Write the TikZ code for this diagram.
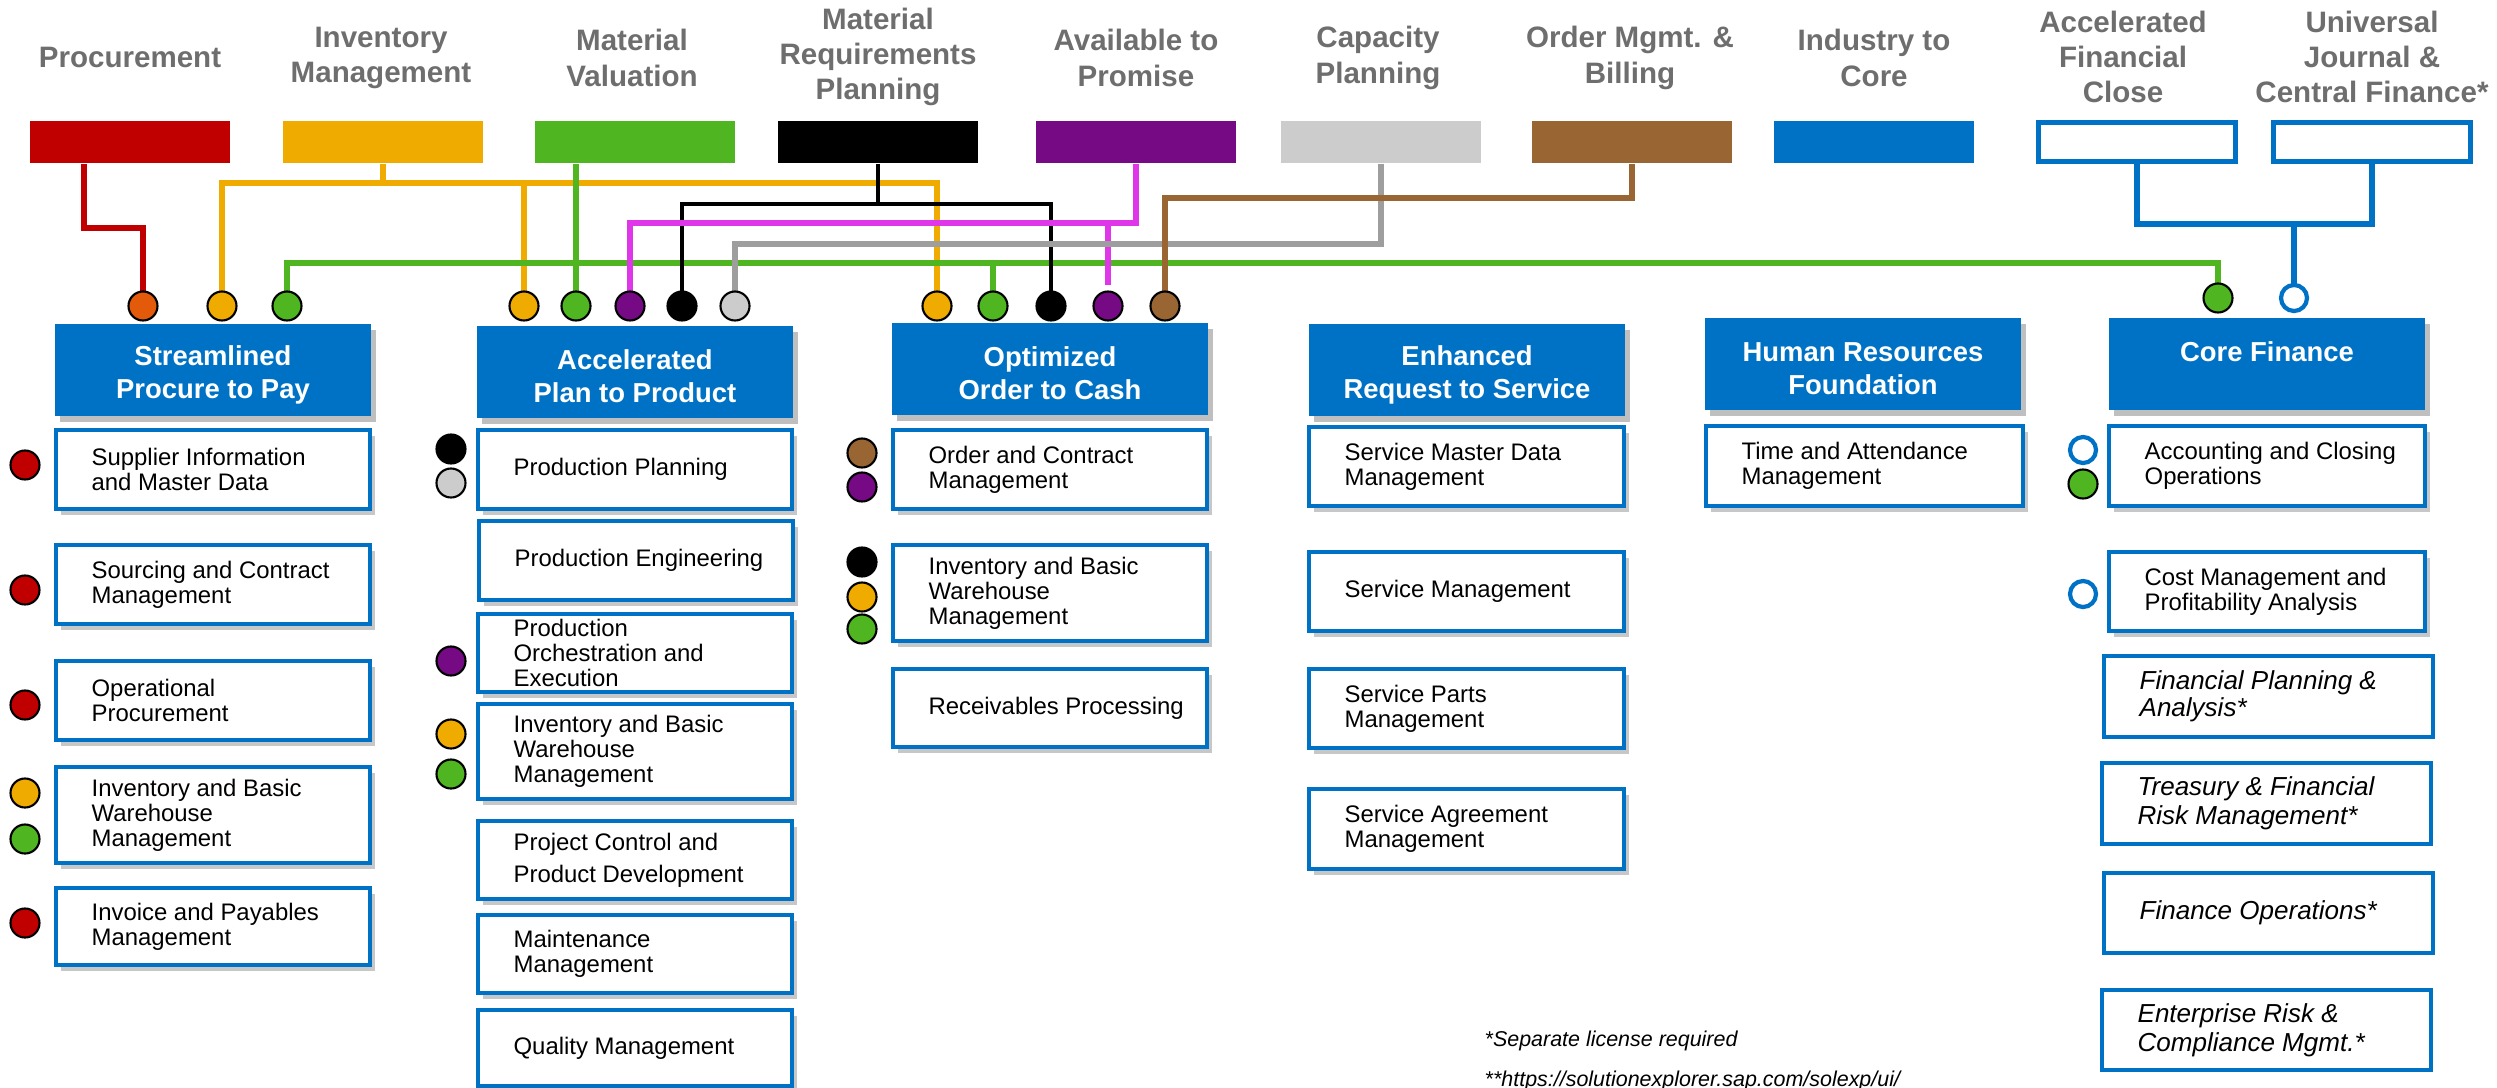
\documentclass[tikz,border=0pt]{standalone}
\usepackage{fontspec}
\setmainfont{Liberation Sans}
\usetikzlibrary{shadows}
\definecolor{cred}{HTML}{C00000}
\definecolor{corg}{HTML}{E35A0A}
\definecolor{cyel}{HTML}{F0AB00}
\definecolor{cgrn}{HTML}{4FB621}
\definecolor{cpur}{HTML}{760A85}
\definecolor{cmag}{HTML}{DE36E8}
\definecolor{cgrl}{HTML}{CCCCCC}
\definecolor{cgrd}{HTML}{9E9E9E}
\definecolor{cbrn}{HTML}{996633}
\definecolor{cblue}{HTML}{0072C6}
\definecolor{hgray}{HTML}{6E6E6E}
% [box style]{x1}{y1}{x2}{y2}{name}{text}
\newcommand\mkbox[7][sub]{%
  \node[#1, minimum width={(#4-#2-4)*0.01cm}, minimum height={(#5-#3-4)*0.01cm}] (#6) at ({(#2+#4)/2},{(#3+#5)/2}) {};
  \node[#1txt, anchor=west] (#6t) at ([xshift=0.37cm]#6.west) {#7};}
% {x}{y}{name}{text}
\newcommand\mkhead[4]{%
  \node[chead] (#3) at (#1,#2) {};
  \node[cheadtxt] (#3t) at ([yshift=-0.045cm]#3.center) {#4};}
\begin{document}
\begin{tikzpicture}[x=0.01cm,y=-0.01cm,
  htxt/.style={font=\fontsize{8.4}{10}\selectfont\bfseries, text=hgray, align=center, inner sep=0},
  bar/.style={minimum width=2cm, minimum height=0.42cm, inner sep=0, fill=#1},
  obar/.style={minimum width=1.97cm, minimum height=0.39cm, inner sep=0, draw=cblue, line width=1.3pt, fill=white},
  chead/.style={fill=cblue, inner sep=0, minimum width=3.15cm, minimum height=0.92cm,
     drop shadow={shadow xshift=0.05cm, shadow yshift=-0.06cm, opacity=0.25, fill=black}},
  cheadtxt/.style={text=white, font=\fontsize{7.8}{9.4}\selectfont\bfseries, align=center, inner sep=0},
  sub/.style={draw=cblue, line width=1.2pt, fill=white, inner sep=0,
     drop shadow={shadow xshift=0.05cm, shadow yshift=-0.06cm, opacity=0.22, fill=black}},
  subi/.style={draw=cblue, line width=1.2pt, fill=white, inner sep=0},
  subtxt/.style={font=\fontsize{6.8}{7.1}\selectfont, align=left, inner sep=0},
  subitxt/.style={font=\fontsize{7.4}{7.7}\selectfont\itshape, align=left, inner sep=0},
  dot/.style={circle, fill=#1, draw=black, line width=0.6pt, minimum size=0.29cm, inner sep=0},
  odot/.style={circle, fill=white, draw=cblue, line width=1.2pt, minimum size=0.26cm, inner sep=0},
  wire/.style={line width=1.5pt, draw=#1},
  foot/.style={font=\fontsize{6.1}{7}\selectfont\itshape, inner sep=0, anchor=west}]
\useasboundingbox (0,0) rectangle (2497,1088);
\clip (0,0) rectangle (2497,1088);

% top headings
\node[htxt] (tProc) at (130,57) {Procurement};
\node[htxt] (tInv) at (381,58) {Inventory\\Management};
\node[htxt] (tVal) at (632,58) {Material\\Valuation};
\node[htxt] (tMRP) at (878,57) {Material\\Requirements\\Planning};
\node[htxt] (tATP) at (1136,58) {Available to\\Promise};
\node[htxt] (tCap) at (1378,58) {Capacity\\Planning};
\node[htxt] (tOrd) at (1630,58) {Order Mgmt. \&\\Billing};
\node[htxt] (tInd) at (1874,58) {Industry to\\Core};
\node[htxt] (tAFC) at (2123,57) {Accelerated\\Financial\\Close};
\node[htxt] (tUJ) at (2372,57) {Universal\\Journal \&\\Central Finance*};

% top bars
\node[bar=cred] (hProc) at (130,142) {};
\node[bar=cyel] (hInv) at (383,142) {};
\node[bar=cgrn] (hVal) at (635,142) {};
\node[bar=black] (hMRP) at (878,142) {};
\node[bar=cpur] (hATP) at (1136,142) {};
\node[bar=cgrl] (hCap) at (1381,142) {};
\node[bar=cbrn] (hOrd) at (1632,142) {};
\node[bar=cblue] (hInd) at (1874,142) {};
\node[obar] (hAFC) at (2137,142) {};
\node[obar] (hUJ) at (2372,142) {};

% top dot positions
\coordinate (g1r) at (143,306);
\coordinate (g1y) at (222,306);
\coordinate (g1g) at (287,306);
\coordinate (g2y) at (524,306);
\coordinate (g2g) at (576,306);
\coordinate (g2p) at (630,306);
\coordinate (g2k) at (682,306);
\coordinate (g2s) at (735,306);
\coordinate (g3y) at (937,306);
\coordinate (g3g) at (993,306);
\coordinate (g3k) at (1051,306);
\coordinate (g3p) at (1108,306);
\coordinate (g3b) at (1165,306);
\coordinate (g6g) at (2218,298);
\coordinate (g6o) at (2294,298);

% bus levels
\coordinate (xR) at (84,0);
\coordinate (yR) at (0,228);
\coordinate (yY) at (0,183);
\coordinate (yG) at (0,263);
\coordinate (yK) at (0,204);
\coordinate (yM) at (0,223);
\coordinate (yS) at (0,244);
\coordinate (yB) at (0,198);
\coordinate (yF) at (0,224);

% connectors
\draw[wire=cred] (hProc.south -| xR) |- (g1r |- yR) -- (g1r);
\draw[wire=cyel] (hInv.south) -- (hInv.south |- yY);
\draw[wire=cyel] (g1y) |- (g3y |- yY) -- (g3y);
\draw[wire=cyel] (g2y) -- (g2y |- yY);
\draw[wire=cgrn] (hVal.south -| g2g) -- (g2g);
\draw[wire=cgrn] (g1g) |- (g6g |- yG) -- (g6g);
\draw[wire=cgrn] (g3g) -- (g3g |- yG);
\draw[line width=1.1pt, draw=black] (hMRP.south) -- (hMRP.south |- yK);
\draw[line width=1.1pt, draw=black] (g2k) |- (g3k |- yK) -- (g3k);
\draw[wire=cmag] (hATP.south) |- (g2p |- yM) -- (g2p);
\draw[wire=cmag] (g3p |- yM) -- ([yshift=0.21cm]g3p);
\draw[wire=cgrd] (hCap.south) |- (g2s |- yS) -- (g2s);
\draw[wire=cbrn] (hOrd.south) |- (g3b |- yB) -- (g3b);
\draw[wire=cblue] (hAFC.south) |- (hUJ.south |- yF) -- (hUJ.south);
\draw[wire=cblue] (g6o) -- (g6o |- yF);

% top dots
\node[dot=corg] (n1r) at (g1r) {};
\node[dot=cyel] (n1y) at (g1y) {};
\node[dot=cgrn] (n1g) at (g1g) {};
\node[dot=cyel] (n2y) at (g2y) {};
\node[dot=cgrn] (n2g) at (g2g) {};
\node[dot=cpur] (n2p) at (g2p) {};
\node[dot=black] (n2k) at (g2k) {};
\node[dot=cgrl] (n2s) at (g2s) {};
\node[dot=cyel] (n3y) at (g3y) {};
\node[dot=cgrn] (n3g) at (g3g) {};
\node[dot=black] (n3k) at (g3k) {};
\node[dot=cpur] (n3p) at (g3p) {};
\node[dot=cbrn] (n3b) at (g3b) {};
\node[dot=cgrn] (n6g) at (g6g) {};
\node[odot] (n6o) at (g6o) {};

% column headers
\mkhead{213}{370}{cP2P}{Streamlined\\Procure to Pay}
\mkhead{635}{372}{cPtP}{Accelerated\\Plan to Product}
\mkhead{1050}{369}{cO2C}{Optimized\\Order to Cash}
\mkhead{1467}{370}{cR2S}{Enhanced\\Request to Service}
\mkhead{1863}{364}{cHR}{Human Resources\\Foundation}
\mkhead{2267}{364}{cFin}{Core Finance\\\mbox{}}

% column 1
\mkbox{54}{428}{372}{511}{s11}{Supplier Information\\and Master Data}
\mkbox{54}{543}{372}{626}{s12}{Sourcing and Contract\\Management}
\mkbox{54}{659}{372}{742}{s13}{Operational\\Procurement}
\mkbox{54}{765}{372}{865}{s14}{Inventory and Basic\\Warehouse\\Management}
\mkbox{54}{886}{372}{967}{s15}{Invoice and Payables\\Management}
% column 2
\mkbox{476}{428}{794}{511}{s21}{Production Planning}
\mkbox{477}{519}{795}{602}{s22}{Production Engineering}
\mkbox{476}{612}{794}{694}{s23}{Production\\Orchestration and\\Execution}
\mkbox{476}{702}{794}{801}{s24}{Inventory and Basic\\Warehouse\\Management}
\mkbox{476}{819}{794}{901}{s25}{Project Control and\\[0.07cm]Product Development}
\mkbox{476}{913}{794}{995}{s26}{Maintenance\\Management}
\mkbox{476}{1008}{794}{1088}{s27}{Quality Management}
% column 3
\mkbox{891}{428}{1209}{511}{s31}{Order and Contract\\Management}
\mkbox{891}{543}{1209}{643}{s32}{Inventory and Basic\\Warehouse\\Management}
\mkbox{891}{667}{1209}{749}{s33}{Receivables Processing}
% column 4
\mkbox{1307}{425}{1626}{508}{s41}{Service Master Data\\Management}
\mkbox{1307}{550}{1626}{633}{s42}{Service Management}
\mkbox{1307}{667}{1626}{750}{s43}{Service Parts\\Management}
\mkbox{1307}{787}{1626}{871}{s44}{Service Agreement\\Management}
% column 5
\mkbox{1704}{424}{2025}{508}{s51}{Time and Attendance\\Management}
% column 6
\mkbox{2107}{424}{2427}{508}{s61}{Accounting and Closing\\Operations}
\mkbox{2107}{550}{2427}{633}{s62}{Cost Management and\\Profitability Analysis}
\mkbox[subi]{2102}{654}{2435}{739}{s63}{Financial Planning \&\\Analysis*}
\mkbox[subi]{2100}{761}{2433}{846}{s64}{Treasury \& Financial\\[0.02cm]Risk Management*}
\mkbox[subi]{2102}{871}{2435}{955}{s65}{Finance Operations*}
\mkbox[subi]{2100}{988}{2433}{1072}{s66}{Enterprise Risk \&\\[0.02cm]Compliance Mgmt.*}

% side dots
\node[dot=cred] (d11) at (25,465) {};
\node[dot=cred] (d12) at (25,590) {};
\node[dot=cred] (d13) at (25,705) {};
\node[dot=cyel] (d14) at (25,793) {};
\node[dot=cgrn] (d15) at (25,839) {};
\node[dot=cred] (d16) at (25,923) {};
\node[dot=black] (d21) at (451,449) {};
\node[dot=cgrl] (d22) at (451,483) {};
\node[dot=cpur] (d23) at (451,661) {};
\node[dot=cyel] (d24) at (451,734) {};
\node[dot=cgrn] (d25) at (451,774) {};
\node[dot=cbrn] (d31) at (862,453) {};
\node[dot=cpur] (d32) at (862,487) {};
\node[dot=black] (d33) at (862,562) {};
\node[dot=cyel] (d34) at (862,597) {};
\node[dot=cgrn] (d35) at (862,629) {};
\node[odot] (d61) at (2083,450) {};
\node[dot=cgrn] (d62) at (2083,484) {};
\node[odot] (d63) at (2083,594) {};

% footnotes
\node[foot] (fn1) at (1484,1041) {*Separate license required};
\node[foot] (fn2) at (1484,1081) {**https://solutionexplorer.sap.com/solexp/ui/};
\end{tikzpicture}
\end{document}
